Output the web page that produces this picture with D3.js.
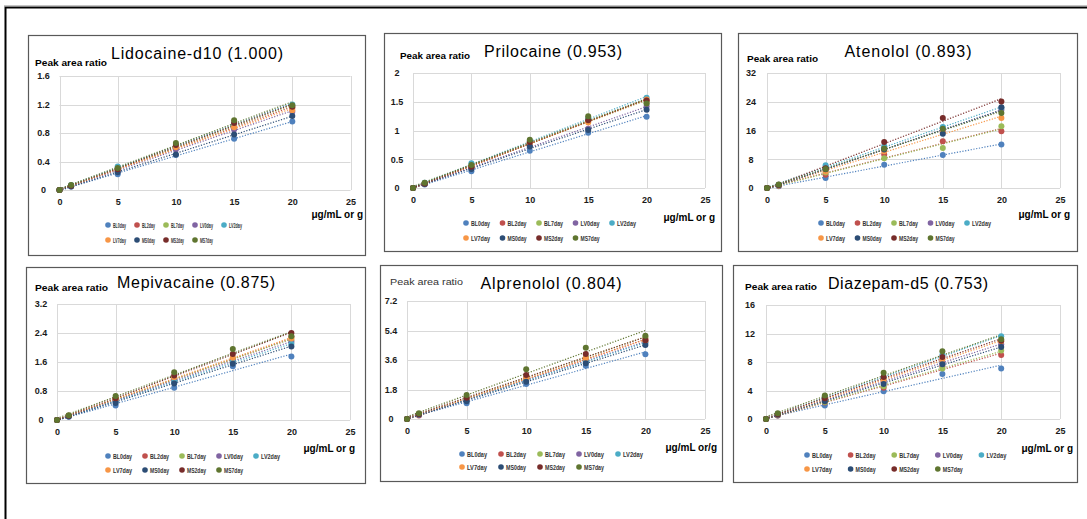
<!DOCTYPE html>
<html><head><meta charset="utf-8">
<script src="https://cdn.jsdelivr.net/npm/d3@7"></script>
<style>
html,body{margin:0;padding:0;background:#fff;}
svg{display:block;}
text{font-family:"Liberation Sans",Arial,sans-serif;}
</style></head>
<body>
<svg id="c" width="1087" height="519"></svg>
<script>
// ---------- DATA ----------
const concentrations = [0, 1, 5, 10, 15, 20];
const seriesNames = ["BL0day","BL2day","BL7day","LV0day","LV2day","LV7day","MS0day","MS2day","MS7day"];
const xTicks = [0, 5, 10, 15, 20, 25];

const titles = ["Lidocaine-d10 (1.000)","Prilocaine (0.953)","Atenolol (0.893)","Mepivacaine (0.875)","Alprenolol (0.804)","Diazepam-d5 (0.753)"];
const yLabels = ["Peak area ratio","Peak area ratio","Peak area ratio","Peak area ratio","Peak area ratio","Peak area ratio"];
const xLabels = ["μg/mL or g","μg/mL or g","μg/mL or g","μg/mL or g","μg/mL or/g","μg/mL or g"];
const yTicks = [
  [0,0.4,0.8,1.2,1.6],
  [0,0.5,1,1.5,2],
  [0,8,16,24,32],
  [0,0.8,1.6,2.4,3.2],
  [0,1.8,3.6,5.4,7.2],
  [0,4,8,12,16]
];

const lidocaine = [
  [0,0.05,0.22,0.49,0.72,0.96],
  [0,0.06,0.27,0.60,0.90,1.15],
  [0,0.06,0.28,0.61,0.92,1.17],
  [0,0.06,0.26,0.57,0.85,1.10],
  [0,0.07,0.33,0.62,0.93,1.20],
  [0,0.06,0.28,0.60,0.88,1.12],
  [0,0.05,0.25,0.50,0.78,1.04],
  [0,0.06,0.29,0.63,0.94,1.17],
  [0,0.07,0.31,0.66,0.98,1.19]
];
const prilocaine = [
  [0,0.06,0.29,0.65,0.96,1.24],
  [0,0.07,0.36,0.79,1.17,1.52],
  [0,0.08,0.38,0.80,1.20,1.48],
  [0,0.07,0.34,0.75,1.03,1.42],
  [0,0.09,0.43,0.82,1.21,1.57],
  [0,0.08,0.37,0.78,1.14,1.54],
  [0,0.07,0.33,0.72,1.01,1.36],
  [0,0.08,0.37,0.80,1.18,1.52],
  [0,0.09,0.40,0.84,1.25,1.47]
];
const atenolol = [
  [0,0.5,2.8,6.5,9.2,12.1],
  [0,0.6,3.7,9.3,13.0,15.8],
  [0,0.7,4.3,8.3,11.1,17.2],
  [0,0.8,5.0,11.0,16.0,21.8],
  [0,0.9,6.3,11.6,17.0,22.3],
  [0,0.7,4.6,10.2,15.5,19.5],
  [0,0.8,5.2,10.7,15.1,22.5],
  [0,0.9,5.5,12.8,19.5,24.1],
  [0,1.0,5.3,11.0,16.5,20.9]
];
const mepivacaine = [
  [0,0.09,0.40,0.89,1.48,1.75],
  [0,0.11,0.55,1.12,1.61,2.30],
  [0,0.12,0.57,1.15,1.70,2.20],
  [0,0.11,0.52,1.08,1.65,2.15],
  [0,0.11,0.50,1.05,1.60,2.10],
  [0,0.12,0.58,1.18,1.72,2.25],
  [0,0.10,0.47,1.01,1.55,2.03],
  [0,0.12,0.60,1.23,1.82,2.40],
  [0,0.13,0.66,1.32,1.96,2.31]
];
const alprenolol = [
  [0,0.25,0.96,2.14,3.25,3.95],
  [0,0.22,1.15,2.45,3.60,4.90],
  [0,0.30,1.25,2.55,3.75,5.00],
  [0,0.28,1.20,2.40,3.55,4.70],
  [0,0.28,1.18,2.35,3.50,4.65],
  [0,0.30,1.22,2.48,3.70,4.78],
  [0,0.27,1.08,2.28,3.40,4.52],
  [0,0.30,1.30,2.68,3.97,4.80],
  [0,0.35,1.46,3.03,4.35,5.08]
];
const diazepam = [
  [0,0.5,1.9,3.9,6.3,7.1],
  [0,0.5,2.3,4.4,7.4,9.0],
  [0,0.6,2.4,4.6,7.1,9.6],
  [0,0.6,2.6,5.2,8.0,10.5],
  [0,0.7,3.0,5.8,9.0,11.6],
  [0,0.6,2.7,5.5,8.4,10.9],
  [0,0.6,2.5,4.9,7.7,10.1],
  [0,0.7,2.9,5.9,8.7,11.0],
  [0,0.8,3.3,6.5,9.5,11.2]
];
const panelData = [lidocaine, prilocaine, atenolol, mepivacaine, alprenolol, diazepam];

// ---------- STYLE / LAYOUT ----------
const colors = ["#4F81BD","#C0504D","#9BBB59","#8064A2","#4BACC6","#F79646","#2C4D75","#772C2A","#5F7530"];
const layout = [
  {box:[28,35,365,255], plot:[59.5,350.5,76,190], title:[197,59,172], yl:[35,66,72,true], xl:[363,218], leg:[108,225,240,29,18]},
  {box:[384,33,721,251], plot:[413,705,73,188], title:[553,57,138], yl:[400,59,70,true], xl:[715,221], leg:[466,223,238,36.5,24]},
  {box:[738,33,1077,251], plot:[767,1060,73,188], title:[908,57,127], yl:[747,62,71,true], xl:[1070,218], leg:[821,223,238,36.5,24]},
  {box:[26,267,365,483], plot:[57,350,304,420], title:[196,288,158], yl:[35,291,73,true], xl:[355,452], leg:[108,456,470,37,24]},
  {box:[380,265,722,481], plot:[407,705,301,419], title:[551,289,141], yl:[390,285,73,false], xl:[717,451], leg:[462,454,467,39,25]},
  {box:[733,265,1077,482], plot:[766,1060,305,419], title:[908,289,160], yl:[745,290,72,true], xl:[1073,452], leg:[807,455,469,43.6,25]}
];

const svg = d3.select("#c");
svg.append("rect").attr("width",1087).attr("height",519).attr("fill","#fff");
// outer frame
svg.append("path").attr("d","M5.5,519 V7.5 H1087").attr("fill","none").attr("stroke","#000").attr("stroke-width",2);
svg.append("path").attr("d","M4,6 H1087").attr("fill","none").attr("stroke","#888").attr("stroke-width",1);

function fit(xs, ys){
  const n = xs.length, mx = d3.mean(xs), my = d3.mean(ys);
  let sxy=0, sxx=0;
  for(let i=0;i<n;i++){ sxy += (xs[i]-mx)*(ys[i]-my); sxx += (xs[i]-mx)**2; }
  const b = sxy/sxx; return {a: my - b*mx, b};
}

panelData.forEach((data, p) => {
  const L = layout[p];
  const g = svg.append("g");
  const [bx0,by0,bx1,by1] = L.box;
  g.append("rect").attr("x",bx0+0.5).attr("y",by0+0.5).attr("width",bx1-bx0).attr("height",by1-by0)
    .attr("fill","#fff").attr("stroke","#595959").attr("stroke-width",1.2);

  const [px0,px1,py0,py1] = L.plot;
  const yt = yTicks[p];
  const x = d3.scaleLinear().domain([0,25]).range([px0,px1]);
  const y = d3.scaleLinear().domain([0,yt[yt.length-1]]).range([py1,py0]);

  // gridlines
  g.selectAll(".gy").data(yt).join("line")
    .attr("x1",px0).attr("x2",px1).attr("y1",d=>Math.round(y(d))+0.5).attr("y2",d=>Math.round(y(d))+0.5)
    .attr("stroke","#D9D9D9").attr("stroke-width",1);
  g.selectAll(".gx").data(xTicks).join("line")
    .attr("y1",py0).attr("y2",py1).attr("x1",d=>Math.round(x(d))+0.5).attr("x2",d=>Math.round(x(d))+0.5)
    .attr("stroke","#D9D9D9").attr("stroke-width",1);

  // axes (labels only)
  const ya = g.append("g").attr("transform",`translate(${px0},0)`)
    .call(d3.axisLeft(y).tickValues(yt).tickSize(0).tickPadding(16).tickFormat(d=>String(d)));
  ya.select(".domain").remove();
  ya.selectAll("text").attr("text-anchor","middle").attr("font-family","Liberation Sans").attr("font-weight","bold")
    .attr("font-size",9).attr("fill","#1a1a1a");
  const xa = g.append("g").attr("transform",`translate(0,${py1})`)
    .call(d3.axisBottom(x).tickValues(xTicks).tickSize(0).tickPadding(9).tickFormat(d=>String(d)));
  xa.select(".domain").remove();
  xa.selectAll("text").attr("font-family","Liberation Sans").attr("font-weight","bold").attr("font-size",9).attr("fill","#1a1a1a");

  // trendlines
  data.forEach((ys, s) => {
    const f = fit(concentrations, ys);
    g.append("line").attr("x1",x(0)).attr("y1",y(f.a)).attr("x2",x(20)).attr("y2",y(f.a+f.b*20))
      .attr("stroke",colors[s]).attr("stroke-width",1.2).attr("stroke-dasharray","1.2,1.6");
  });
  // points
  data.forEach((ys, s) => {
    g.selectAll(null).data(concentrations.map((c,i)=>[c,ys[i]])).join("circle")
      .attr("cx",d=>x(d[0])).attr("cy",d=>y(d[1])).attr("r",3).attr("fill",colors[s]);
  });

  // title
  g.append("text").attr("x",L.title[0]).attr("y",L.title[1]).attr("text-anchor","middle")
    .attr("font-size",16).attr("fill","#000").attr("textLength",L.title[2]).attr("lengthAdjust","spacing")
    .text(titles[p]);
  // y label
  g.append("text").attr("x",L.yl[0]).attr("y",L.yl[1]).attr("font-size",8.5)
    .attr("font-weight",L.yl[3]?"bold":"normal").attr("fill",L.yl[3]?"#000":"#333")
    .attr("textLength",L.yl[2]).attr("lengthAdjust","spacingAndGlyphs").text(yLabels[p]);
  // x label
  g.append("text").attr("x",L.xl[0]).attr("y",L.xl[1]).attr("text-anchor","end").attr("font-size",10)
    .attr("font-weight","bold").attr("fill","#000").text(xLabels[p]);

  // legend
  const [lx,ly1,ly2,ls,lw] = L.leg;
  seriesNames.forEach((nm, s) => {
    const col = s<5 ? s : s-5, row = s<5 ? 0 : 1;
    const cx = lx + col*ls, cy = row===0?ly1:ly2;
    g.append("circle").attr("cx",cx).attr("cy",cy).attr("r",2.8).attr("fill",colors[s]);
    g.append("text").attr("x",cx+5).attr("y",cy+2.6).attr("font-size",7).attr("font-weight","bold")
      .attr("font-family","Liberation Sans Narrow, Liberation Sans").attr("fill","#333")
      .attr("textLength",lw - 5).attr("lengthAdjust","spacingAndGlyphs").text(nm);
  });
});
</script>
</body></html>
